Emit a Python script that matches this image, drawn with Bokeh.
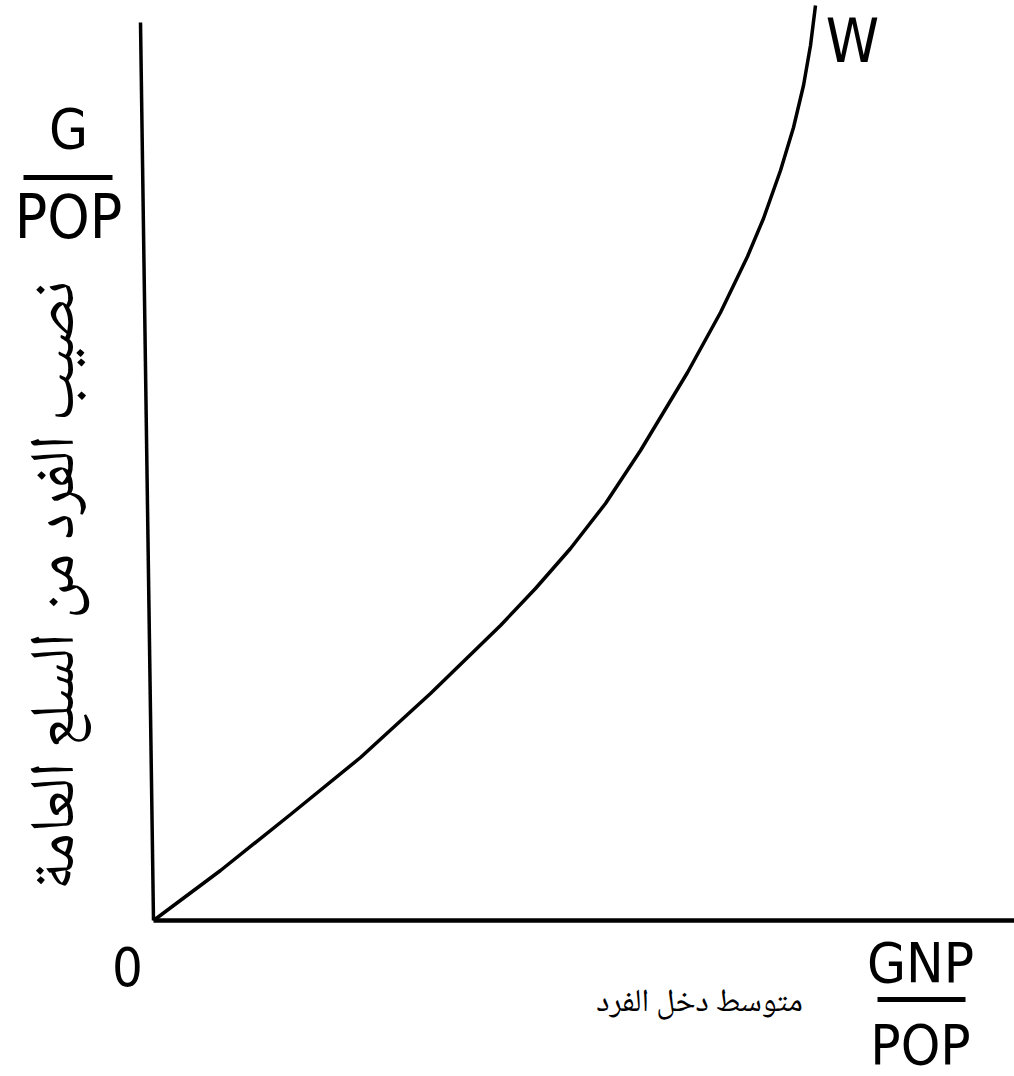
from bokeh.plotting import figure
from bokeh.models import Range1d
from bokeh.core.properties import value
from bokeh.embed import file_html
from bokeh.resources import INLINE
import math

# Curve W: per-capita public goods (G/POP) vs per-capita income (GNP/POP)
gnp_pc = [0.0, 0.67, 1.37, 2.07, 2.77, 3.47, 3.82, 4.17, 4.52, 4.87, 5.34, 5.67,
          5.94, 6.10, 6.27, 6.40, 6.50, 6.57, 6.62]
g_pc = [0.0, 0.50, 1.06, 1.63, 2.27, 2.95, 3.32, 3.72, 4.17, 4.70, 5.48, 6.08,
        6.64, 7.02, 7.50, 7.93, 8.35, 8.75, 9.15]

curve_label = "W"
origin_label = "0"
y_num, y_den = "G", "POP"
x_num, x_den = "GNP", "POP"
y_title = "نصيب الفرد من السلع العامة"
x_title = "متوسط دخل الفرد"

x_axis_end = 8.7
y_axis_top = 8.98

LAT = value("'Liberation Sans Narrow', 'DejaVu Sans Condensed', 'Liberation Sans', sans-serif")
AR = value("'Noto Naskh Arabic', 'Noto Sans Arabic', 'DejaVu Sans', sans-serif")

p = figure(width=1014, height=1076, x_range=Range1d(-1.53, 8.61), y_range=Range1d(-1.56, 9.20),
           output_backend="svg", toolbar_location=None, min_border=0)
p.axis.visible = False
p.grid.visible = False
p.outline_line_color = None
p.background_fill_color = "white"
p.border_fill_color = "white"

# axes
p.line([0, x_axis_end], [0, 0], line_color="black", line_width=4.5)
p.line([0, -0.13], [0, y_axis_top], line_color="black", line_width=3.5)

# curve
p.line(gnp_pc, g_pc, line_color="black", line_width=3.5)

# labels
p.text([6.99], [8.80], text=[curve_label], text_font=LAT, text_font_size="60px",
       text_align="center", text_baseline="middle", text_color="black")
p.text([-0.26], [-0.46], text=[origin_label], text_font=LAT, text_font_size="54px",
       text_align="center", text_baseline="middle", text_color="black")

# y fraction
p.text([-0.85], [7.92], text=[y_num], text_font=LAT, text_font_size="56px",
       text_align="center", text_baseline="middle", text_color="black")
p.line([-1.30, -0.41], [7.43, 7.43], line_color="black", line_width=5)
p.text([-0.85], [7.04], text=[y_den], text_font=LAT, text_font_size="60px",
       text_align="center", text_baseline="middle", text_color="black")

# x fraction
p.text([7.67], [-0.42], text=[x_num], text_font=LAT, text_font_size="56px",
       text_align="center", text_baseline="middle", text_color="black")
p.line([7.24, 8.12], [-0.79, -0.79], line_color="black", line_width=5)
p.text([7.67], [-1.24], text=[x_den], text_font=LAT, text_font_size="56px",
       text_align="center", text_baseline="middle", text_color="black")

# Arabic titles
p.text([5.46], [-0.83], text=[x_title], text_font=AR, text_font_size="32px",
       text_align="center", text_baseline="middle", text_color="black")
p.text([-0.94], [3.35], text=[y_title], text_font=AR, text_font_size="63px",
       angle=math.pi / 2, text_align="center", text_baseline="middle", text_color="black")

open("out.html", "w").write(file_html(p, INLINE))
